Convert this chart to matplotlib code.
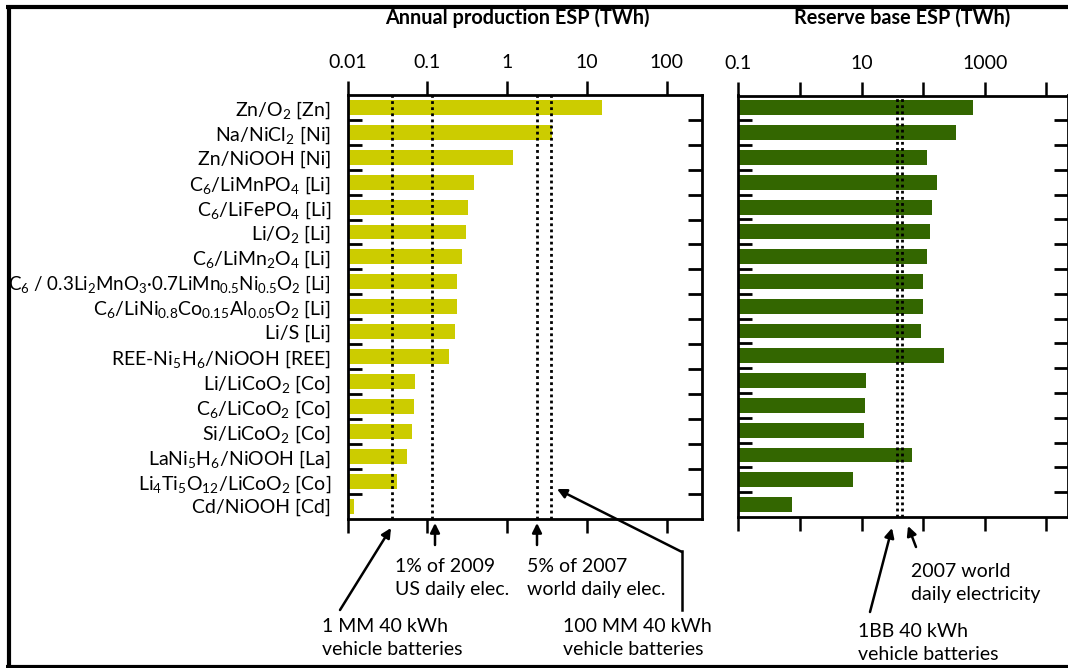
import matplotlib.pyplot as plt
from matplotlib.lines import Line2D
from matplotlib.ticker import FixedLocator, NullFormatter
import numpy as np

plt.rcParams['font.family'] = ['Lato', 'DejaVu Sans']
plt.rcParams['mathtext.fontset'] = 'custom'
plt.rcParams['mathtext.rm'] = 'Lato'
plt.rcParams['mathtext.it'] = 'Lato:italic'
plt.rcParams['mathtext.bf'] = 'Lato:bold'

# battery chemistries [limiting element]
chemistries = [
    "Zn/O$_2$ [Zn]",
    "Na/NiCl$_2$ [Ni]",
    "Zn/NiOOH [Ni]",
    "C$_6$/LiMnPO$_4$ [Li]",
    "C$_6$/LiFePO$_4$ [Li]",
    "Li/O$_2$ [Li]",
    "C$_6$/LiMn$_2$O$_4$ [Li]",
    "C$_6$ / 0.3Li$_2$MnO$_3$·0.7LiMn$_{0.5}$Ni$_{0.5}$O$_2$ [Li]",
    "C$_6$/LiNi$_{0.8}$Co$_{0.15}$Al$_{0.05}$O$_2$ [Li]",
    "Li/S [Li]",
    "REE-Ni$_5$H$_6$/NiOOH [REE]",
    "Li/LiCoO$_2$ [Co]",
    "C$_6$/LiCoO$_2$ [Co]",
    "Si/LiCoO$_2$ [Co]",
    "LaNi$_5$H$_6$/NiOOH [La]",
    "Li$_4$Ti$_5$O$_{12}$/LiCoO$_2$ [Co]",
    "Cd/NiOOH [Cd]",
]

# electricity storage potential, TWh
annual_esp = [15.7, 3.65, 1.2, 0.39, 0.325, 0.307, 0.274, 0.237, 0.237, 0.222,
              0.185, 0.0695, 0.068, 0.065, 0.0557, 0.042, 0.0122]
reserve_esp = [653, 342, 114, 166, 138, 131, 116, 101, 99.5, 93.5,
               221, 11.7, 11.5, 10.9, 66.8, 7.2, 0.75]

# reference levels, TWh
annual_refs = [0.036, 0.116, 2.37, 3.58]
reserve_refs = [37, 46]

annual_ticks = [0.01, 0.1, 1, 10, 100]
annual_ticklabels = ["0.01", "0.1", "1", "10", "100"]
reserve_ticks = [0.1, 1, 10, 100, 1000, 10000]
reserve_ticklabels = ["0.1", "", "10", "", "1000", ""]

W, H = 1068, 668
fig = plt.figure(figsize=(W / 100, H / 100), dpi=100)


def fx(x):
    return x / W


def fy(y):
    return 1 - y / H


def px_axes(x0, x1, y0, y1):
    return fig.add_axes([x0 / W, 1 - y1 / H, (x1 - x0) / W, (y1 - y0) / H])


ax1 = px_axes(347.5, 702, 95, 518.5)
ax2 = px_axes(738.3, 1068, 95.5, 517)

ypos = np.arange(len(chemistries))

ax1.barh(ypos, annual_esp, left=1e-5, height=0.6, color="#cccc00", zorder=1)
ax2.barh(ypos, reserve_esp, left=1e-5, height=0.6, color="#336600", zorder=1)

for v in annual_refs:
    ax1.axvline(v, color="black", lw=2, ls=(0, (1, 1.2)), zorder=3)
for v in reserve_refs:
    ax2.axvline(v, color="black", lw=2, ls=(0, (1, 1.2)), zorder=3)

ax1.set_xscale("log")
ax1.set_xlim(0.01, 10 ** 2.443)
ax2.set_xscale("log")
ax2.set_xlim(0.1, 10 ** 4.352)

for ax, ticks, labels in [(ax1, annual_ticks, annual_ticklabels),
                          (ax2, reserve_ticks, reserve_ticklabels)]:
    ax.set_ylim(len(chemistries) - 0.5, -0.5)
    ax.xaxis.set_major_locator(FixedLocator(ticks))
    ax.set_xticklabels(labels)
    ax.xaxis.set_minor_locator(FixedLocator([]))
    ax.xaxis.set_minor_formatter(NullFormatter())
    ax.tick_params(axis="x", which="major", top=True, bottom=True,
                   labeltop=True, labelbottom=False, direction="out",
                   length=10, width=1.8, labelsize=14, pad=7)
    ax.yaxis.set_minor_locator(FixedLocator(ypos[:-1] + 0.5))
    ax.tick_params(axis="y", which="minor", left=True, right=True,
                   direction="in", length=10, width=2)
    for s in ax.spines.values():
        s.set_linewidth(2)

ax1.set_yticks(ypos)
ax1.set_yticklabels(chemistries)
ax1.tick_params(axis="y", which="major", length=0, labelsize=14, pad=12)
# the long layered-oxide label is set a little tighter
ax1.get_yticklabels()[7].set_fontsize(13.5)
ax2.set_yticks([])

fig.text(fx(517), fy(18), "Annual production ESP (TWh)", ha="center",
         va="center", fontsize=14.3, fontweight="bold")
fig.text(fx(902), fy(18), "Reserve base ESP (TWh)", ha="center",
         va="center", fontsize=14.3, fontweight="bold")

# annotations below the panels
notes = [
    (395, 578, "1% of 2009\nUS daily elec."),
    (527, 578, "5% of 2007\nworld daily elec."),
    (322, 638, "1 MM 40 kWh\nvehicle batteries"),
    (563, 638, "100 MM 40 kWh\nvehicle batteries"),
    (911, 583, "2007 world\ndaily electricity"),
    (858, 643, "1BB 40 kWh\nvehicle batteries"),
]
for x, y, s in notes:
    fig.text(fx(x), fy(y), s, ha="left", va="center", fontsize=14,
             linespacing=1.4)

arrow_kw = dict(arrowstyle="-|>", color="black", lw=1.8,
                mutation_scale=14, shrinkA=0, shrinkB=0)
arrows = [
    ((340, 610), (391, 528)),
    ((435, 545), (435, 523)),
    ((537, 545), (537, 523)),
    ((870, 612), (892, 528)),
    ((916, 547), (908, 526)),
    ((682, 552), (557, 489)),
]
for (x0, y0), (x1, y1) in arrows:
    fig.add_artist(plt.Annotation(
        "", xy=(fx(x1), fy(y1)), xytext=(fx(x0), fy(y0)),
        xycoords="figure fraction", textcoords="figure fraction",
        arrowprops=arrow_kw))

# vertical part of the bent leader for the 100 MM note
fig.add_artist(Line2D([fx(682), fx(682)], [fy(610), fy(551)],
                      color="black", lw=1.8))

# frame around the figure
frame_kw = dict(color="black", lw=3, solid_capstyle="butt")
fig.add_artist(Line2D([fx(6), fx(1068)], [fy(7), fy(7)], **frame_kw))
fig.add_artist(Line2D([fx(9), fx(9)], [fy(5), fy(668)], **frame_kw))
fig.add_artist(Line2D([fx(6), fx(1068)], [fy(666.5), fy(666.5)], **frame_kw))

fig.savefig("out.png", dpi=100)
